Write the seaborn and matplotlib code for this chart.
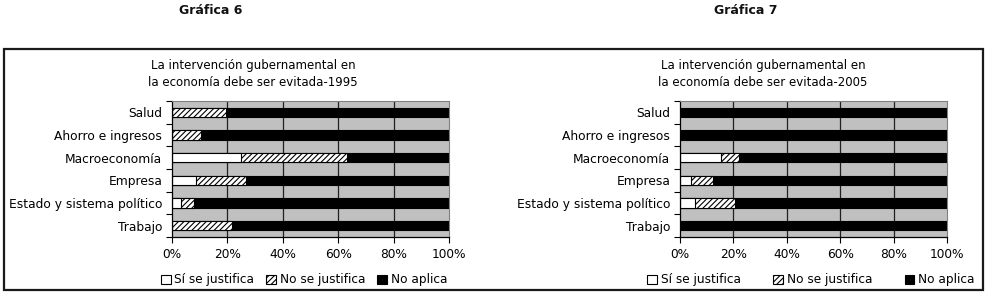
import numpy as np
import pandas as pd
import matplotlib.pyplot as plt
import seaborn as sns
from matplotlib.patches import Patch, Rectangle
from matplotlib.ticker import FixedLocator

categories = ["Salud", "Ahorro e ingresos", "Macroeconomía", "Empresa",
              "Estado y sistema político", "Trabajo"]
series_names = ["Sí se justifica", "No se justifica", "No aplica"]

# porcentajes
si_1995 = [0, 0, 24.8, 8.8, 3.1, 0]
no_1995 = [19.6, 10.5, 38.4, 18.0, 5.0, 21.7]
na_1995 = [80.4, 89.5, 36.8, 73.2, 91.9, 78.3]

si_2005 = [0, 0, 15.2, 4.3, 5.8, 0]
no_2005 = [0, 0, 7.0, 8.1, 14.9, 0]
na_2005 = [100, 100, 77.8, 87.6, 79.3, 100]

xticks = [0, 20, 40, 60, 80, 100]
xtick_labels = ["0%", "20%", "40%", "60%", "80%", "100%"]

sns.set_style("white")
plt.rcParams['font.family'] = ['DejaVu Sans']
plt.rcParams['hatch.linewidth'] = 0.8
plt.rcParams['text.color'] = 'black'
plt.rcParams['xtick.color'] = 'black'
plt.rcParams['ytick.color'] = 'black'

fig = plt.figure(figsize=(9.91, 2.96), dpi=100)


def stacked(ax, si, no, na):
    frame = pd.DataFrame({"cat": categories, "si": si, "no": no, "na": na})
    frame["c1"] = frame["si"]
    frame["c2"] = frame["si"] + frame["no"]
    frame["c3"] = frame["c2"] + frame["na"]
    w = 0.42
    sns.barplot(data=frame, x="c3", y="cat", orient="h", color="black",
                width=w, edgecolor="black", linewidth=0.8, ax=ax)
    sns.barplot(data=frame, x="c2", y="cat", orient="h", color="white",
                width=w, edgecolor="black", linewidth=0.8, hatch="//////", ax=ax)
    sns.barplot(data=frame, x="c1", y="cat", orient="h", color="white",
                width=w, edgecolor="black", linewidth=0.8, ax=ax)
    ax.set_facecolor("#c0c0c0")
    ax.set_xlim(0, 100)
    ax.set_ylim(5.5, -0.5)
    ax.set_xlabel("")
    ax.set_ylabel("")
    ax.set_xticks(xticks)
    ax.set_xticklabels(xtick_labels, fontsize=8.7)
    ax.set_yticks(range(len(categories)))
    ax.set_yticklabels(categories, fontsize=8.8)
    ax.yaxis.set_minor_locator(FixedLocator(np.arange(-0.5, 6, 1)))
    ax.tick_params(axis="y", which="major", length=0, pad=7)
    ax.tick_params(axis="y", which="minor", length=4, width=0.8, direction="out", left=True)
    ax.tick_params(axis="x", length=4, width=0.8, direction="out", bottom=True, pad=4)
    for x in xticks[1:-1]:
        ax.axvline(x, color="#202020", lw=0.9, zorder=0.5)
    ax.set_axisbelow(True)
    for s in ["top", "right"]:
        ax.spines[s].set_color("#808080")
        ax.spines[s].set_linewidth(0.8)
    for s in ["left", "bottom"]:
        ax.spines[s].set_color("black")
        ax.spines[s].set_linewidth(0.9)


ax1 = fig.add_axes([172 / 991, 1 - 237 / 296, 277 / 991, 136 / 296])
ax2 = fig.add_axes([680 / 991, 1 - 237 / 296, 267 / 991, 136 / 296])
stacked(ax1, si_1995, no_1995, na_1995)
stacked(ax2, si_2005, no_2005, na_2005)

fig.text(211 / 991, 1 - 11 / 296, "Gráfica 6", ha="center", va="center",
         fontsize=9, fontweight="bold", color="#111111")
fig.text(746 / 991, 1 - 11 / 296, "Gráfica 7", ha="center", va="center",
         fontsize=9, fontweight="bold", color="#111111")

fig.text(253 / 991, 1 - 74 / 296,
         "La intervención gubernamental en\nla economía debe ser evitada-1995",
         ha="center", va="center", fontsize=8.5, linespacing=1.35)
fig.text(763 / 991, 1 - 74 / 296,
         "La intervención gubernamental en\nla economía debe ser evitada-2005",
         ha="center", va="center", fontsize=8.5, linespacing=1.35)

handles = [Patch(facecolor="white", edgecolor="black", lw=0.8),
           Patch(facecolor="white", edgecolor="black", lw=0.8, hatch="//////"),
           Patch(facecolor="black", edgecolor="black", lw=0.8)]
fig.legend(handles, series_names, loc="center", ncol=3,
           bbox_to_anchor=(304 / 991, 1 - 280 / 296), frameon=False,
           fontsize=8.7, handlelength=0.8, handleheight=0.8, handletextpad=0.3,
           columnspacing=1.0, borderpad=0)
fig.legend(handles, series_names, loc="center", ncol=3,
           bbox_to_anchor=(811 / 991, 1 - 280 / 296), frameon=False,
           fontsize=8.7, handlelength=0.8, handleheight=0.8, handletextpad=0.3,
           columnspacing=2.7, borderpad=0)

fig.add_artist(Rectangle((4 / 991, 1 - 290 / 296), 979 / 991, 241 / 296,
                         transform=fig.transFigure, fill=False,
                         edgecolor="#1a1a1a", lw=1.6))

fig.savefig("out.png", dpi=100)
